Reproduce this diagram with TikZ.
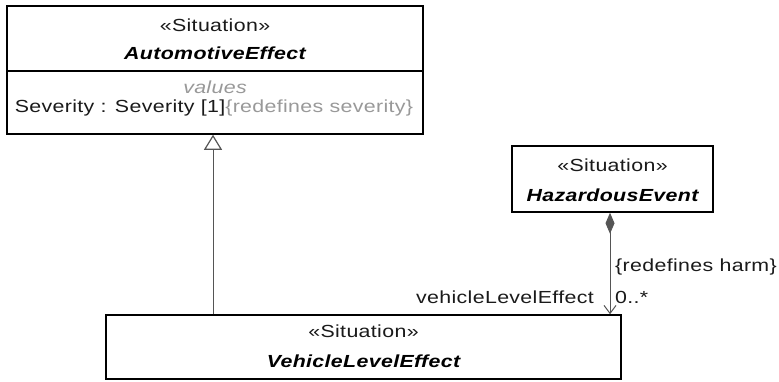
\documentclass[tikz,border=0pt]{standalone}
\usepackage{fontspec}
\setmainfont{Liberation Sans}[FakeStretch=1.22,LetterSpace=2]
\usetikzlibrary{arrows.meta}
\definecolor{txt}{HTML}{1A1A1A}
\definecolor{lgray}{HTML}{999999}
\definecolor{lnk}{HTML}{555555}
\tikzset{
  umlbox/.style={draw=black, line width=1.5pt, fill=white, inner sep=0pt},
  lbl/.style={inner sep=0pt, font=\fontsize{17.5}{21}\selectfont, text=txt},
  cls/.style={lbl, font=\fontsize{17.5}{21}\selectfont\bfseries\itshape, text=black},
  gen/.style={draw=lnk, line width=1pt, -{Triangle[open, length=15pt, width=18pt, line width=1.2pt]}},
  comp/.style={draw=lnk, line width=1pt, {Diamond[length=21pt, width=9pt, fill=lnk]}-{Straight Barb[length=8pt, width=12pt, line width=1pt]}}
}
\begin{document}
\begin{tikzpicture}[x=1pt, y=-1pt]
\useasboundingbox (0,0) rectangle (779,381);
% AutomotiveEffect
\node[umlbox, minimum width=416pt, minimum height=128pt] (ae) at (215,70) {};
\coordinate (aediv) at (0,71);
\draw[line width=1.2pt] (ae.west |- aediv) -- (ae.east |- aediv);
\node[lbl] (aest) at (215,25) {«Situation»};
\node[cls] (aename) at (215,53) {AutomotiveEffect};
\node[lbl, text=lgray, font=\fontsize{17.5}{21}\selectfont\itshape] (aeval) at (215,87) {values};
\node[lbl] (aeattr) at (214,108) {Severity : Severity [1]\textcolor{lgray}{\{redefines severity\}}};
% HazardousEvent
\node[umlbox, minimum width=201pt, minimum height=66pt] (he) at (612.5,179) {};
\node[lbl] (hest) at (612.5,165) {«Situation»};
\node[cls] (hename) at (612.5,195) {HazardousEvent};
% VehicleLevelEffect
\node[umlbox, minimum width=515pt, minimum height=64pt] (vle) at (363.5,347) {};
\node[lbl] (vlest) at (363.5,331) {«Situation»};
\node[cls] (vlename) at (363.5,361) {VehicleLevelEffect};
% connectors
\coordinate (gx) at (213,0);
\coordinate (cx) at (610,0);
\draw[gen] (vle.north -| gx) -- (ae.south -| gx);
\draw[comp] (he.south -| cx) -- (vle.north -| cx);
\node[lbl, anchor=west] (redef) at (615,267) {\{redefines harm\}};
\node[lbl, anchor=west] (mult) at (615,297) {0..*};
\node[lbl, anchor=east] (role) at (594,297) {vehicleLevelEffect};
\end{tikzpicture}
\end{document}
